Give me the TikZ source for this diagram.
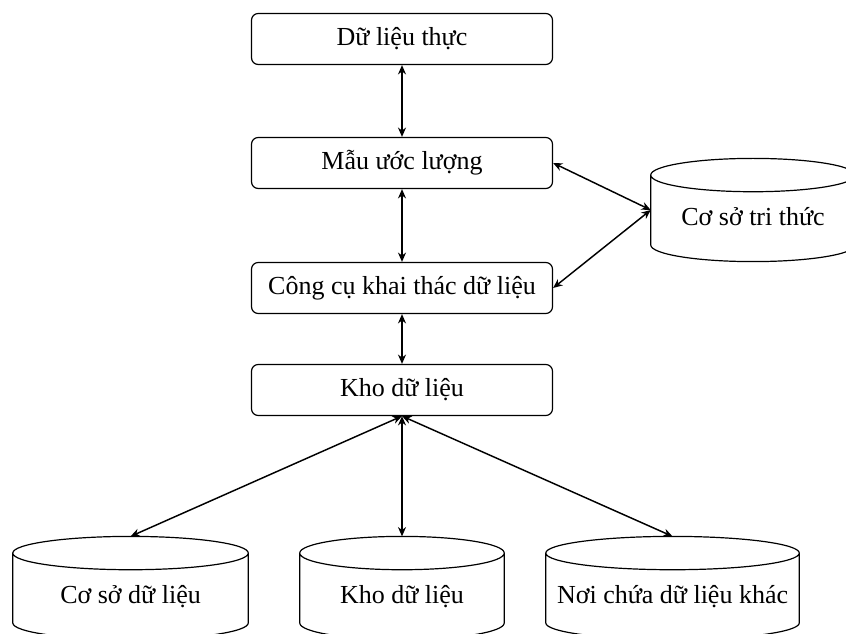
\documentclass[tikz,border=0pt]{standalone}
\usepackage{fontspec}
\setmainfont{Liberation Serif}
\usetikzlibrary{shapes.geometric, arrows.meta, calc}
\tikzstyle{process} = [rectangle, rounded corners=5pt, minimum width=225.75pt, minimum height=38.25pt, text centered, draw=black, line width=0.9pt]
\tikzstyle{store} = [rectangle, minimum height=52pt, inner sep=0pt, text height=26.8pt, text depth=4pt, text centered]
\tikzstyle{arrow} = [line width=1.1pt,<->,>={Stealth[length=7pt,width=6pt]}]

\begin{document}
\begin{tikzpicture}[node distance=93pt, font=\fontsize{19.5}{22}\selectfont]
    \useasboundingbox (0,0) rectangle (634.5pt,-475.5pt);
    \node (real) [process] at (301.5pt,-29.25pt) {Dữ liệu thực};
    \node (model) [process, below of=real] {Mẫu ước lượng};
    \node (tool) [process, below of=model, node distance=93.75pt] {Công cụ khai thác dữ liệu};
    \node (warehouse) [process, below of=tool, node distance=76.5pt] {Kho dữ liệu};

    \node (knowledge) [store, minimum width=153pt] at (564.75pt,-157.5pt) {Cơ sở tri thức};
    \node (database) [store, minimum width=176.25pt] at (97.9pt,-441pt) {Cơ sở dữ liệu};
    \node (datastore) [store, minimum width=153pt] at (301.5pt,-441pt) {Kho dữ liệu};
    \node (other) [store, minimum width=189.75pt] at (504.4pt,-441pt) {Nơi chứa dữ liệu khác};

    % cylinder outlines
    \foreach \store in {knowledge,database,datastore,other}
        \draw [line width=0.9pt] let \p1=(\store.north west), \p2=(\store.south east), \n1={(\x2-\x1)/2} in
            (\x1,\y1) -- (\x1,\y2) arc[start angle=180, end angle=360, x radius=\n1, y radius=12.5pt] -- (\x2,\y1)
            (\store.north) ellipse [x radius=\n1, y radius=12.5pt];

    \draw [arrow] (real) -- (model);
    \draw [arrow] (model) -- (tool);
    \draw [arrow] (tool) -- (warehouse);
    \draw [arrow] (model.east) -- (knowledge.west);
    \draw [arrow] (knowledge.west) -- (tool.east);
    \draw [arrow] (warehouse.south) -- ([yshift=12.5pt]database.north);
    \draw [arrow] (warehouse.south) -- ([yshift=12.5pt]datastore.north);
    \draw [arrow] (warehouse.south) -- ([yshift=12.5pt]other.north);
\end{tikzpicture}
\end{document}
